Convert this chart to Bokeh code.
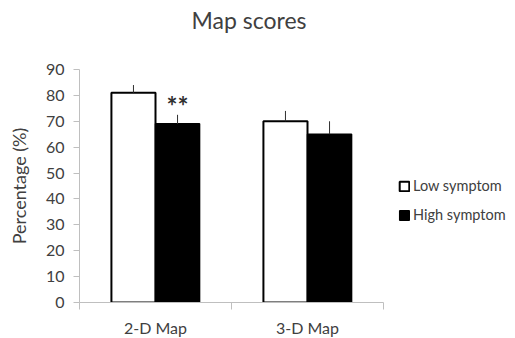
from bokeh.plotting import figure
from bokeh.models import Range1d, FixedTicker, Legend, LegendItem, ColumnDataSource, Title
from bokeh.core.properties import value
from bokeh.embed import file_html
from bokeh.resources import INLINE

# ---- data ----
categories = ["2-D Map", "3-D Map"]
series_names = ["Low symptom", "High symptom"]
low_values = [81, 70]
high_values = [69, 65]
low_errors = [3, 4]
high_errors = [3.5, 5]
significance = ["**", ""]
y_ticks = [0, 10, 20, 30, 40, 50, 60, 70, 80, 90]

FONT = "Lato"
TXT = "#404040"
AX = "#bfbfbf"

centers = [i + 0.5 for i in range(len(categories))]
dodge = 0.145
bar_w = 0.29
low_x = [c - dodge for c in centers]
high_x = [c + dodge for c in centers]

low_src = ColumnDataSource(dict(x=low_x, top=low_values,
                                etop=[v + e for v, e in zip(low_values, low_errors)]))
high_src = ColumnDataSource(dict(x=high_x, top=high_values,
                                 etop=[v + e for v, e in zip(high_values, high_errors)]))

sig_x, sig_y, sig_t = [], [], []
for i, s in enumerate(significance):
    if s:
        sig_x.append(high_x[i])
        sig_y.append(high_values[i] + high_errors[i] + 3.5)
        sig_t.append(s)
sig_src = ColumnDataSource(dict(x=sig_x, y=sig_y, t=sig_t))

p = figure(frame_width=304, frame_height=233, output_backend="svg", toolbar_location=None,
           x_range=Range1d(0, len(categories)), y_range=Range1d(y_ticks[0], y_ticks[-1]),
           min_border_left=79, min_border_right=124, min_border_top=69, min_border_bottom=28)
p.outline_line_color = None
p.grid.visible = False
p.background_fill_color = "white"
p.border_fill_color = "white"

# spacer between title and plot area, then the title itself
p.add_layout(Title(text=" ", text_font=FONT, text_font_size="28px", standoff=0), "above")
p.add_layout(Title(text="Map scores", text_font=FONT, text_font_size="23px",
                   text_font_style="normal", text_color=TXT, align="left", offset=112,
                   standoff=0), "above")

# bars
r_low = p.vbar(x="x", top="top", bottom=0, width=bar_w, source=low_src,
               fill_color="white", line_color="black", line_width=2)
r_high = p.vbar(x="x", top="top", bottom=0, width=bar_w, source=high_src,
                fill_color="black", line_color="black", line_width=1.5)
# error bars (upper only)
p.segment(x0="x", y0="top", x1="x", y1="etop", source=low_src, line_color="#303030", line_width=1)
p.segment(x0="x", y0="top", x1="x", y1="etop", source=high_src, line_color="#303030", line_width=1)

# significance marks
p.text(x="x", y="y", text="t", source=sig_src, text_font=value(FONT), text_font_size="26px",
       text_font_style="bold", text_align="center", text_baseline="middle", text_color="#303030")

# axes
xa = p.xaxis[0]
xa.ticker = FixedTicker(ticks=centers, minor_ticks=list(range(len(categories) + 1)))
xa.major_label_overrides = {c: name for c, name in zip(centers, categories)}
xa.major_tick_out = 0
xa.major_tick_in = 0
xa.minor_tick_out = 7
xa.minor_tick_in = 0
xa.minor_tick_line_color = AX
xa.axis_line_color = AX
xa.major_label_standoff = 8
xa.major_label_text_font = FONT
xa.major_label_text_font_size = "16px"
xa.major_label_text_color = TXT

ya = p.yaxis[0]
ya.ticker = FixedTicker(ticks=y_ticks)
ya.axis_label = "Percentage (%)"
ya.axis_label_text_font = FONT
ya.axis_label_text_font_size = "18px"
ya.axis_label_text_font_style = "normal"
ya.axis_label_text_color = TXT
ya.axis_label_standoff = 13
ya.major_tick_out = 6
ya.major_tick_in = 0
ya.minor_tick_line_color = None
ya.major_tick_line_color = AX
ya.axis_line_color = AX
ya.major_label_standoff = 9
ya.major_label_text_font = FONT
ya.major_label_text_font_size = "16px"
ya.major_label_text_color = TXT

legend = Legend(items=[LegendItem(label=series_names[0], renderers=[r_low]),
                       LegendItem(label=series_names[1], renderers=[r_high])],
                location=(15, 79))
legend.label_text_font = FONT
legend.label_text_font_size = "14.5px"
legend.label_text_color = TXT
legend.glyph_width = 12
legend.glyph_height = 12
legend.label_standoff = 3
legend.spacing = 12
legend.padding = 0
legend.margin = 0
legend.border_line_color = None
legend.background_fill_alpha = 0
p.add_layout(legend, "right")

open("out.html", "w").write(file_html(p, INLINE))
